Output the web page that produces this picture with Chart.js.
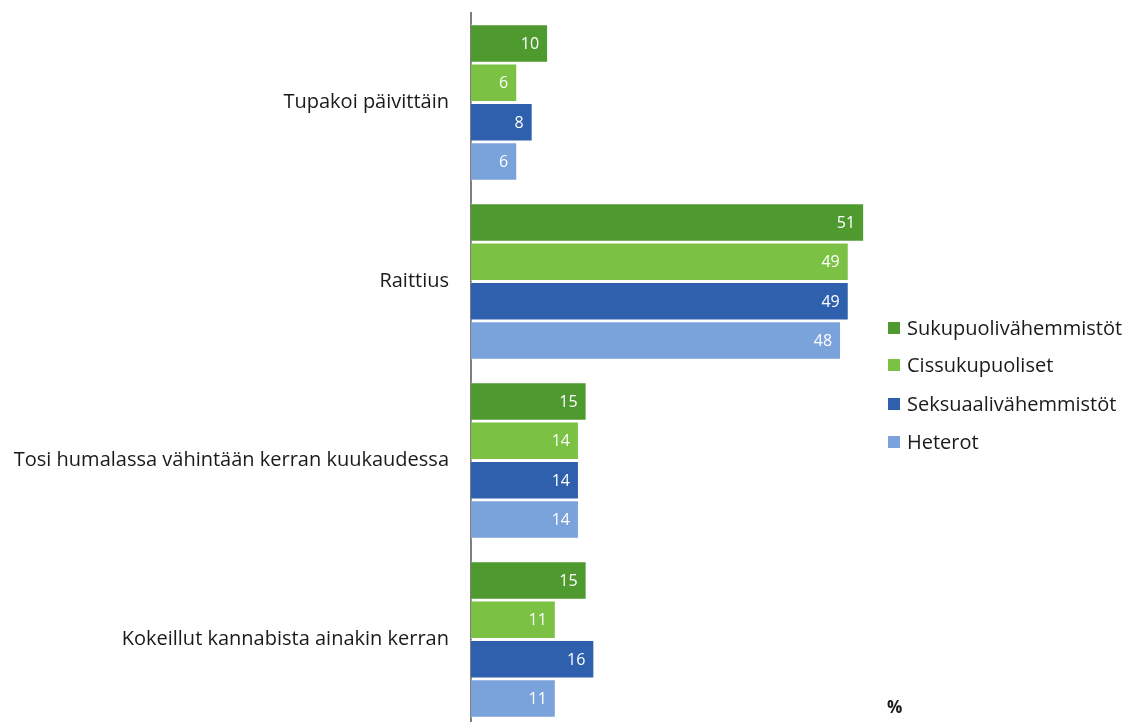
<!DOCTYPE html>
<html>
<head>
<meta charset="utf-8">
<script src="https://cdn.jsdelivr.net/npm/chart.js@4.4.1/dist/chart.umd.min.js"></script>
<style>
  html, body { margin: 0; padding: 0; background: #fff; overflow: hidden; }
  #wrap { position: relative; width: 1128px; height: 722px; overflow: hidden; }
  #c { position: absolute; left: 0; top: 0; }
  .leg { position: absolute; left: 888px; font-family: "Open Sans", sans-serif; font-size: 20px; line-height: 24px; color: #1a1a1a; white-space: nowrap; }
  .leg span.sw { display: inline-block; width: 12px; height: 12px; margin-right: 7px; vertical-align: 1px; }
  #pct { position: absolute; left: 887px; top: 695px; font-family: "Open Sans", sans-serif; font-size: 17px; font-weight: bold; color: #1a1a1a; }
</style>
</head>
<body>
<div id="wrap">
  <canvas id="c" width="1128" height="740" style="width:1128px;height:740px"></canvas>
  <div id="legend"></div>
  <div id="pct">%</div>
</div>
<script>
const categories = ["Tupakoi päivittäin", "Raittius", "Tosi humalassa vähintään kerran kuukaudessa", "Kokeillut kannabista ainakin kerran"];
const seriesNames = ["Sukupuolivähemmistöt", "Cissukupuoliset", "Seksuaalivähemmistöt", "Heterot"];
const sukupuolivahemmistot = [10, 51, 15, 15];
const cissukupuoliset = [6, 49, 14, 11];
const seksuaalivahemmistot = [8, 49, 14, 16];
const heterot = [6, 48, 14, 11];
const colors = ["#4f9a2f", "#7bc143", "#2e60ad", "#7aa2db"];

const values = [sukupuolivahemmistot, cissukupuoliset, seksuaalivahemmistot, heterot];

const legendTops = [316, 353, 392, 430];
const legendEl = document.getElementById('legend');
seriesNames.forEach((n, i) => {
  const d = document.createElement('div');
  d.className = 'leg';
  d.style.top = legendTops[i] + 'px';
  d.innerHTML = '<span class="sw" style="background:' + colors[i] + '"></span>' + n;
  legendEl.appendChild(d);
});

const labelPlugin = {
  id: 'barLabels',
  afterDatasetsDraw(chart) {
    const ctx = chart.ctx;
    ctx.save();
    ctx.font = '16px "Open Sans", sans-serif';
    ctx.fillStyle = '#ffffff';
    ctx.textAlign = 'right';
    ctx.textBaseline = 'middle';
    chart.data.datasets.forEach((ds, di) => {
      chart.getDatasetMeta(di).data.forEach((bar, i) => {
        ctx.fillText(String(ds.data[i]), bar.x - 9, bar.y + 1);
      });
    });
    ctx.restore();
  }
};

new Chart(document.getElementById('c'), {
  type: 'bar',
  data: {
    labels: categories,
    datasets: seriesNames.map((n, i) => ({
      label: n,
      data: values[i],
      backgroundColor: colors[i],
      borderColor: 'rgba(255,255,255,0.6)',
      borderWidth: 1,
      categoryPercentage: 0.88,
      barPercentage: 0.975
    }))
  },
  options: {
    indexAxis: 'y',
    responsive: false,
    animation: false,
    layout: { padding: { top: 13, bottom: 11, right: 196, left: 0 } },
    plugins: { legend: { display: false }, tooltip: { enabled: false } },
    scales: {
      x: { display: false, min: 0, max: 59.8 },
      y: {
        afterFit(scale) { scale.width = 471; scale.paddingTop = 0; scale.paddingBottom = 0; },
        grid: { display: false, drawTicks: false },
        border: { display: true, color: '#7f7f7f', width: 2 },
        ticks: {
          padding: 22,
          color: '#1a1a1a',
          font: { family: '"Open Sans", sans-serif', size: 20 }
        }
      }
    }
  },
  plugins: [labelPlugin]
});
</script>
</body>
</html>
